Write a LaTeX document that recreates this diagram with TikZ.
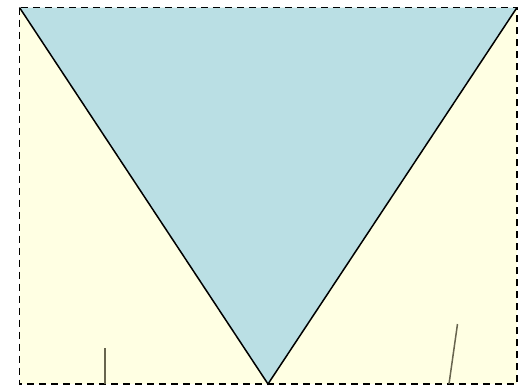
\documentclass[tikz,border=0pt]{standalone}
\begin{document}
\begin{tikzpicture}[x=1pt,y=-1pt,
  edge/.style={draw=black,line width=1.5pt},
  frame/.style={draw=black,line width=1.5pt,dash pattern=on 7pt off 5pt},
  tick/.style={draw=olive!30!black!80,line width=1.5pt}]
\definecolor{blue2}{HTML}{BADFE4}
\definecolor{ylw}{HTML}{FFFFE3}
\useasboundingbox (0,0) rectangle (523,388);
\coordinate (tl) at (19.5,7.5);
\coordinate (tr) at (517,7.5);
\coordinate (br) at (517,384);
\coordinate (bm) at (268,384);
\fill[ylw] (tl) rectangle (br);
\fill[blue2] (tl) -- (tr) -- (bm) -- cycle;
\draw[edge] (tr) -- (bm) -- (tl);
\draw[frame] (tl) rectangle (br);
\coordinate (a1) at (105,348);
\coordinate (a2) at (105,384);
\coordinate (b1) at (457.5,324);
\coordinate (b2) at (449,384);
\draw[tick] (a1) -- (a2);
\draw[tick] (b1) -- (b2);
\end{tikzpicture}
\end{document}
